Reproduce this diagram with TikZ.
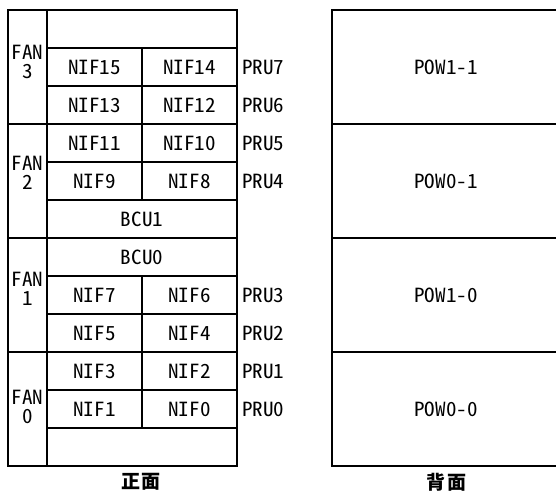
\documentclass[tikz,border=0pt]{standalone}
\usepackage{fontspec}
\setmainfont{Noto Sans CJK JP}[RawFeature=+hwid, FakeStretch=1.08]
\newfontfamily\jpfont{Noto Sans CJK JP}
\begin{document}
\begin{tikzpicture}[x=1pt,y=-1pt,
  box/.style={draw, line width=1.2pt, inner sep=0pt, outer sep=0pt,
    font=\fontsize{19.5}{19}\selectfont},
  half/.style={box, minimum width=95pt, minimum height=38pt},
  full/.style={box, minimum width=190pt, minimum height=38pt},
  fan/.style={box, minimum width=39pt, minimum height=114pt},
  pow/.style={box, minimum width=228pt, minimum height=114pt},
  txt/.style={inner sep=0pt, outer sep=0pt, font=\fontsize{19.5}{19}\selectfont},
  pru/.style={txt, anchor=west},
  caption/.style={inner sep=0pt, font=\jpfont\bfseries\fontsize{19}{20}\selectfont}]
\useasboundingbox (0,0) rectangle (556,494);
% FAN column
\node[fan] (fan3) at (27.5,67) {};
\node[fan] (fan2) at (27.5,181) {};
\node[fan] (fan1) at (27.5,295) {};
\node[fan] (fan0) at (27.5,409) {};
\node[txt, align=center] (fan3t) at (27.5,62) {FAN\\3};
\node[txt, align=center] (fan2t) at (27.5,173) {FAN\\2};
\node[txt, align=center] (fan1t) at (27.5,289) {FAN\\1};
\node[txt, align=center] (fan0t) at (27.5,407) {FAN\\0};
% slots
\node[full] (top) at (142,29) {};
\node[half] (nif15) at (94.5,67) {NIF15};
\node[half] (nif14) at (189.5,67) {NIF14};
\node[half] (nif13) at (94.5,105) {NIF13};
\node[half] (nif12) at (189.5,105) {NIF12};
\node[half] (nif11) at (94.5,143) {NIF11};
\node[half] (nif10) at (189.5,143) {NIF10};
\node[half] (nif9) at (94.5,181) {NIF9};
\node[half] (nif8) at (189.5,181) {NIF8};
\node[full] (bcu1) at (142,219) {BCU1};
\node[full] (bcu0) at (142,257) {BCU0};
\node[half] (nif7) at (94.5,295) {NIF7};
\node[half] (nif6) at (189.5,295) {NIF6};
\node[half] (nif5) at (94.5,333) {NIF5};
\node[half] (nif4) at (189.5,333) {NIF4};
\node[half] (nif3) at (94.5,371) {NIF3};
\node[half] (nif2) at (189.5,371) {NIF2};
\node[half] (nif1) at (94.5,409) {NIF1};
\node[half] (nif0) at (189.5,409) {NIF0};
\node[full] (bottom) at (142,447) {};
% PRU labels
\node[pru] (pru7) at (242,67) {PRU7};
\node[pru] (pru6) at (242,105) {PRU6};
\node[pru] (pru5) at (242,143) {PRU5};
\node[pru] (pru4) at (242,181) {PRU4};
\node[pru] (pru3) at (242,295) {PRU3};
\node[pru] (pru2) at (242,333) {PRU2};
\node[pru] (pru1) at (242,371) {PRU1};
\node[pru] (pru0) at (242,409) {PRU0};
% rear
\node[pow] (pow11) at (446,67) {POW1-1};
\node[pow] (pow01) at (446,181) {POW0-1};
\node[pow] (pow10) at (446,295) {POW1-0};
\node[pow] (pow00) at (446,409) {POW0-0};
% captions
\node[caption] (front) at (141,482) {正\hspace{2pt}面};
\node[caption] (back) at (446,482) {背\hspace{2pt}面};
\end{tikzpicture}
\end{document}
